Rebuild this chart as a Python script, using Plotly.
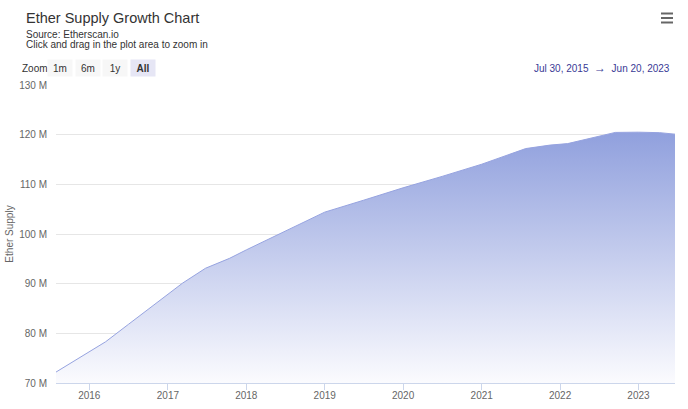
import plotly.graph_objects as go

# ---- data ----
dates = ["2015-07-30", "2016-01-01", "2016-03-17", "2016-07-01", "2017-01-01",
         "2017-03-10", "2017-06-25", "2017-10-15", "2018-01-01", "2018-07-01",
         "2019-01-01", "2019-07-01", "2020-01-01", "2020-07-01", "2021-01-01",
         "2021-07-25", "2021-11-15", "2022-02-05", "2022-07-01", "2022-09-15",
         "2023-01-01", "2023-04-10", "2023-06-20"]
supply_m = [72.2, 76.3, 78.3, 81.8, 87.8,
            90.1, 93.1, 95.1, 96.8, 100.5,
            104.4, 106.8, 109.3, 111.6, 114.05,
            117.2, 117.9, 118.2, 119.6, 120.45,
            120.5, 120.4, 120.1]
supply = [v * 1e6 for v in supply_m]

y_ticks = [70e6, 80e6, 90e6, 100e6, 110e6, 120e6, 130e6]
y_tick_labels = ["70 M", "80 M", "90 M", "100 M", "110 M", "120 M", "130 M"]
x_ticks = ["2016-01-01", "2017-01-01", "2018-01-01", "2019-01-01",
           "2020-01-01", "2021-01-01", "2022-01-01", "2023-01-01"]
x_tick_labels = ["2016", "2017", "2018", "2019", "2020", "2021", "2022", "2023"]
zoom_buttons = ["1m", "6m", "1y", "All"]

W, H = 688, 409
L, R, T, B = 56, 675, 85, 383


def px(x):
    return (x - L) / (R - L)


def py(y):
    return (B - y) / (B - T)


fig = go.Figure()
fig.add_trace(go.Scatter(
    x=dates, y=supply, mode="lines",
    line=dict(color="rgb(150,163,224)", width=1),
    fill="tozeroy",
    fillgradient=dict(type="vertical", start=70e6, stop=121e6,
                      colorscale=[[0, "rgb(251,251,254)"], [1, "rgb(143,159,221)"]]),
    hoverinfo="x+y", showlegend=False,
))

fig.update_layout(
    width=W, height=H,
    margin=dict(l=L, r=W - R, t=T, b=H - B, autoexpand=False),
    paper_bgcolor="white", plot_bgcolor="white",
    font=dict(family="Liberation Sans, Arial, sans-serif", color="#333333"),
    xaxis=dict(
        type="date", range=["2015-07-30", "2023-06-20"], automargin=False,
        tickvals=x_ticks, ticktext=x_tick_labels,
        tickfont=dict(size=10, color="#666666"),
        showgrid=False, zeroline=False,
        showline=True, linecolor="#ccd6eb", linewidth=1,
        ticks="outside", ticklen=6, tickcolor="#ccd6eb", tickwidth=1,
        ticklabelstandoff=-3,
    ),
    yaxis=dict(
        range=[70e6, 130e6], automargin=False,
        tickvals=y_ticks, ticktext=y_tick_labels,
        tickfont=dict(size=10, color="#666666"),
        showgrid=True, gridcolor="#e6e6e6", gridwidth=1,
        zeroline=False, showline=False, ticks="", ticklabelstandoff=8,
        title=dict(text="Ether Supply", font=dict(size=10, color="#666666"), standoff=3),
    ),
)

ann = []
ann.append(dict(text="Ether Supply Growth Chart", x=px(24), y=py(18), xref="paper", yref="paper",
                xanchor="left", yanchor="middle", showarrow=False,
                font=dict(size=14.5, color="#333333")))
ann.append(dict(text="Source: Etherscan.io", x=px(24), y=py(34), xref="paper", yref="paper",
                xanchor="left", yanchor="middle", showarrow=False,
                font=dict(size=10, color="#333333")))
ann.append(dict(text="Click and drag in the plot area to zoom in", x=px(24), y=py(45), xref="paper", yref="paper",
                xanchor="left", yanchor="middle", showarrow=False,
                font=dict(size=10, color="#333333")))
ann.append(dict(text="Zoom", x=px(20), y=py(68), xref="paper", yref="paper",
                xanchor="left", yanchor="middle", showarrow=False,
                font=dict(size=10, color="#333333")))
btn_centers = [60, 88, 115, 143]
for lbl, cx in zip(zoom_buttons, btn_centers):
    active = lbl == "All"
    ann.append(dict(text=("<b>%s</b>" % lbl) if active else lbl, x=px(cx), y=py(68),
                    xref="paper", yref="paper", xanchor="center", yanchor="middle",
                    showarrow=False, width=20, height=12, borderpad=2,
                    bgcolor="#e6e6f5" if active else "#f7f7f7",
                    font=dict(size=10, color="#333333")))
ann.append(dict(text="Jul 30, 2015 &nbsp;<span style='font-size:12px'>→</span>&nbsp; Jun 20, 2023",
                x=px(672), y=py(68), xref="paper", yref="paper",
                xanchor="right", yanchor="middle", showarrow=False,
                font=dict(size=10, color="#3a3a96")))
fig.update_layout(annotations=ann)

shapes = []
for yy in (13.5, 18, 22.5):
    shapes.append(dict(type="line", xref="paper", yref="paper",
                       x0=px(661), x1=px(673), y0=py(yy), y1=py(yy),
                       line=dict(color="#666666", width=2)))
fig.update_layout(shapes=shapes)

fig.write_html("out.html")
